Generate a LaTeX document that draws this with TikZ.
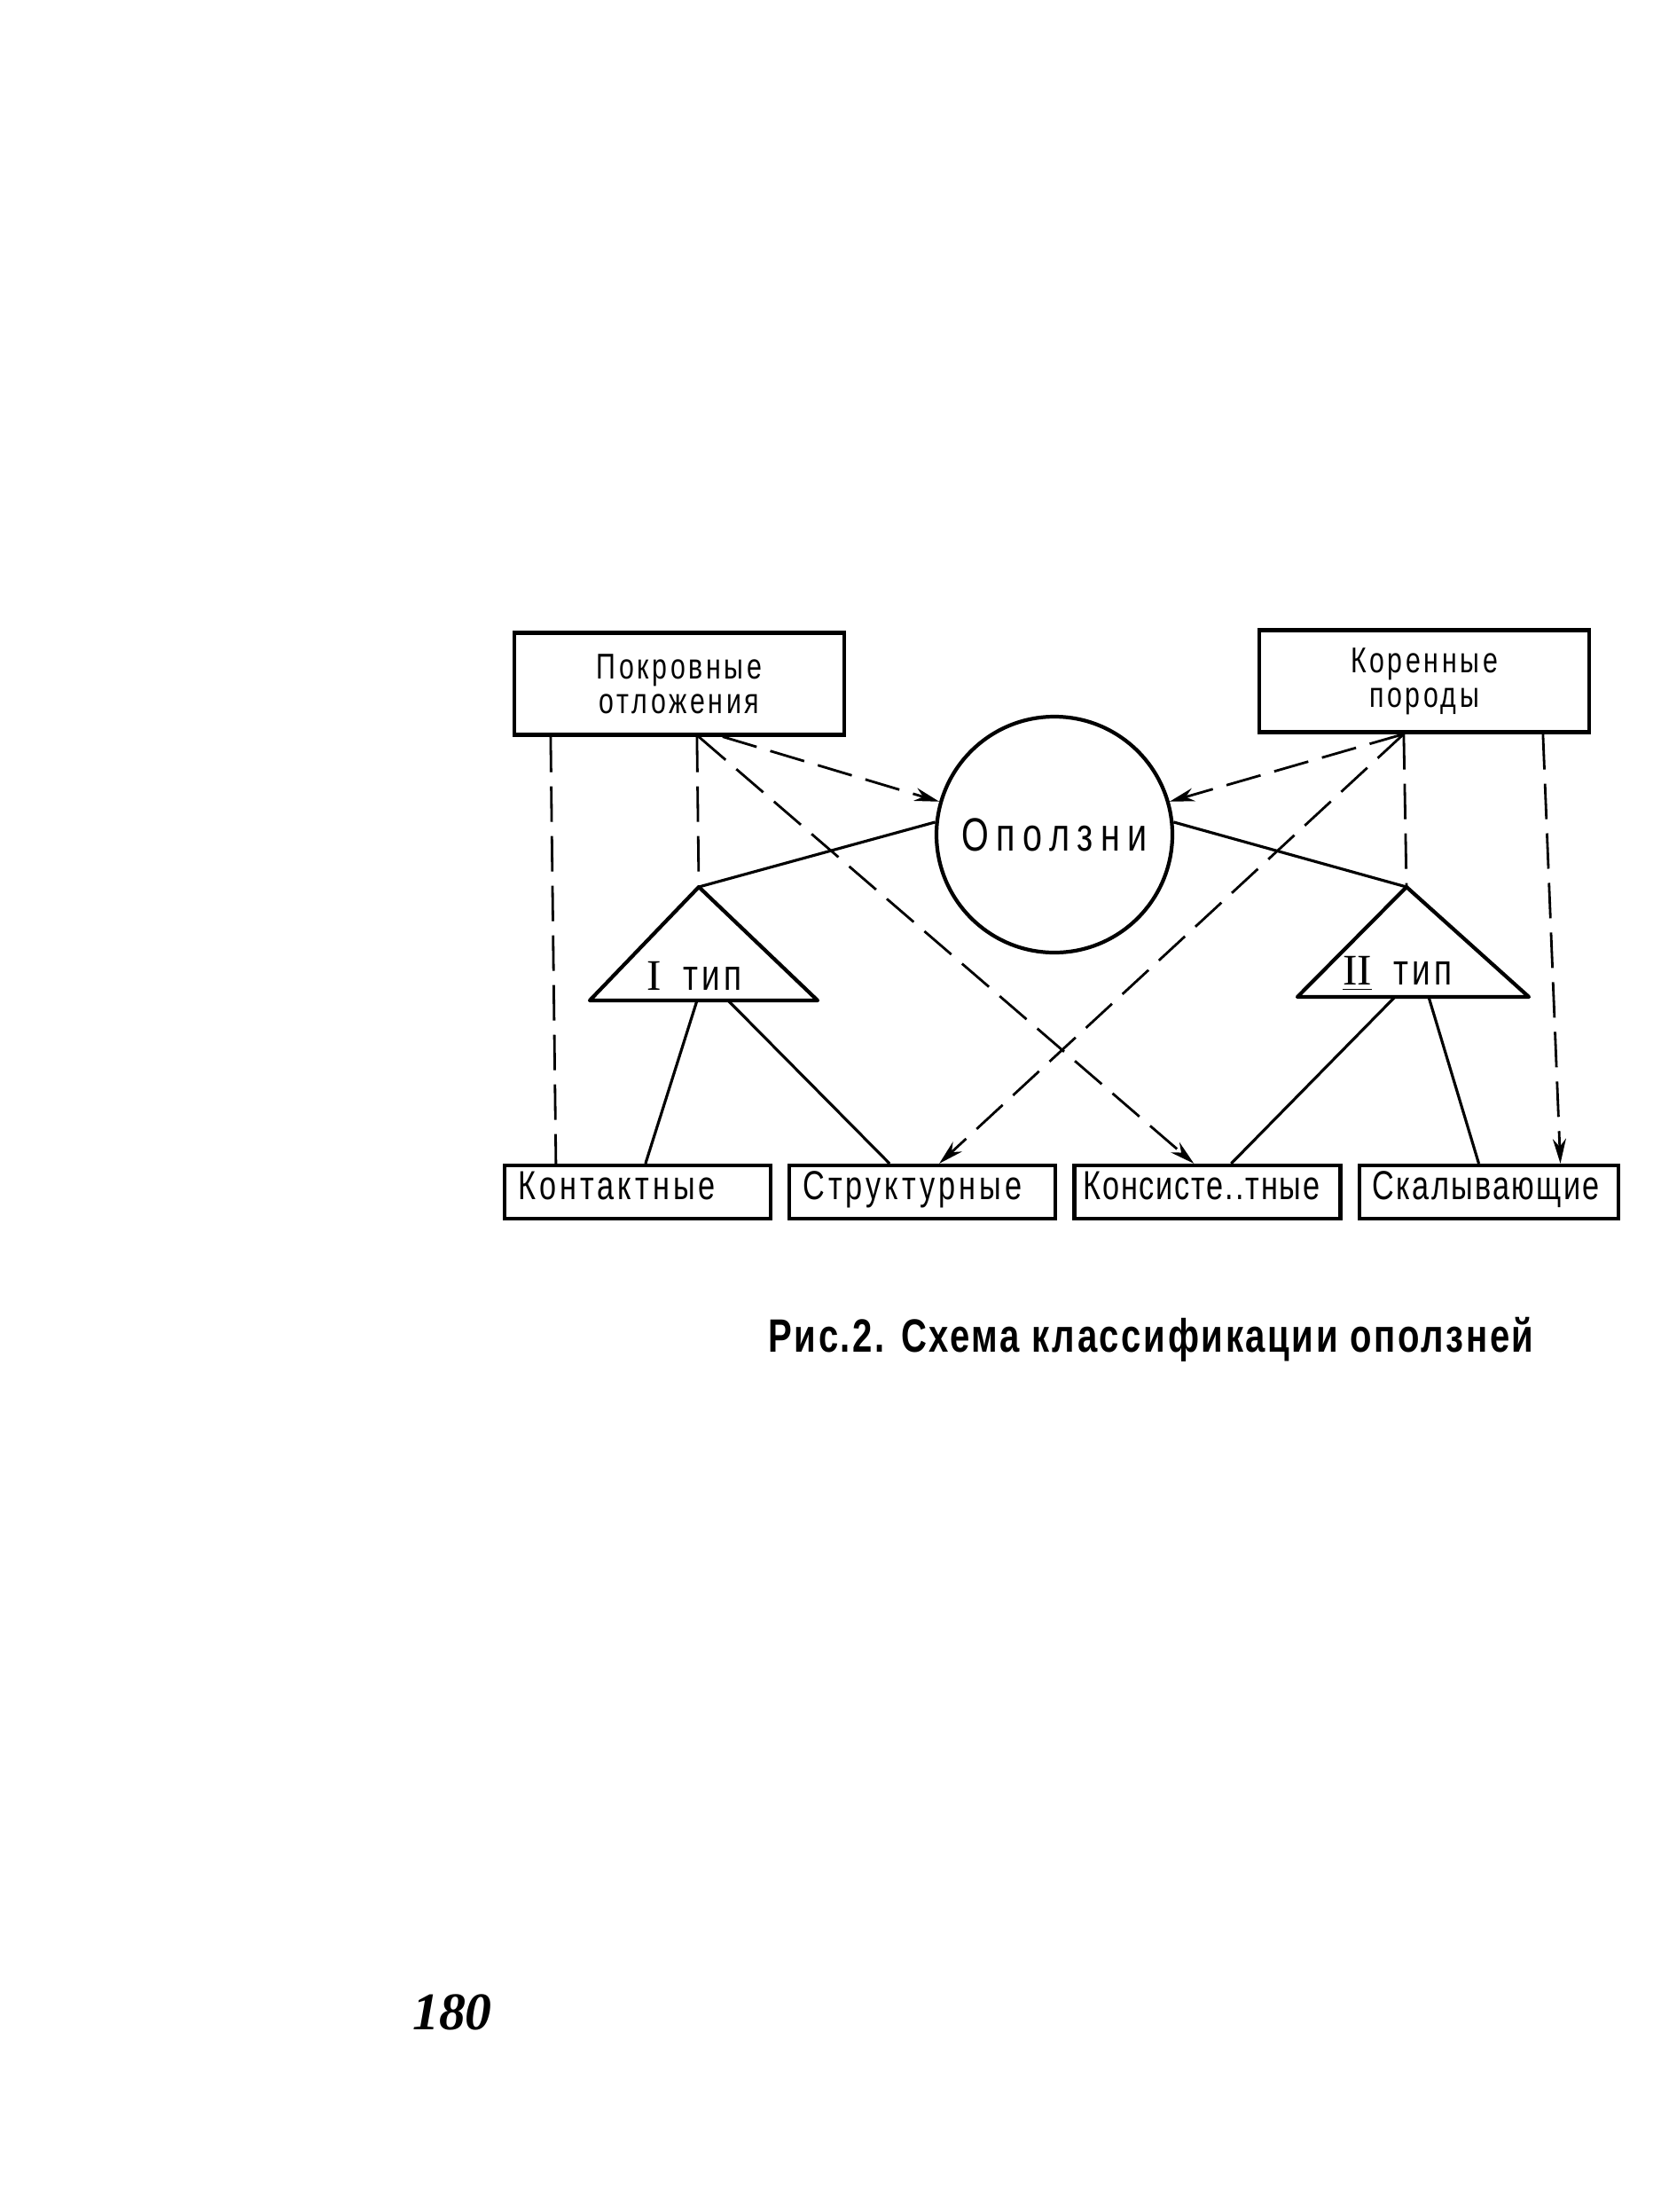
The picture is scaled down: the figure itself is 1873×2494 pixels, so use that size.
\documentclass[tikz,border=0pt]{standalone}
\usepackage{fontspec}
\usepackage{tikz}
\usetikzlibrary{positioning,arrows.meta}
\newfontfamily\stencil[FakeStretch=0.75,LetterSpace=9]{Liberation Sans}
\newfontfamily\romfont{Liberation Serif}
\newfontfamily\capfont[FakeStretch=0.76,LetterSpace=5]{Liberation Sans}

\begin{document}
\begin{tikzpicture}[x=0.1mm, y=-0.1mm, font=\stencil, >={Stealth[length=2.8mm,width=1.5mm]},
  topbox/.style={draw, line width=1.2pt, minimum width=37.2mm, minimum height=11.5mm,
                 align=center, inner sep=0pt, font=\stencil\fontsize{11.5}{11}\selectfont},
  lbox/.style={draw, line width=1.2pt, minimum height=6mm, text width=27mm, inner xsep=1.5mm,
               inner ysep=0pt, text height=2.4mm, text depth=0.7mm, align=left,
               font=\stencil\fontsize{13}{13}\selectfont},
  tri/.style={draw, line width=1.2pt, line join=round},
  tlabel/.style={font=\stencil\fontsize{14}{14}\selectfont},
  link/.style={line width=0.9pt},
  dlink/.style={line width=0.8pt, dash pattern=on 4mm off 1.6mm},
  node distance=1.7mm]
  \useasboundingbox (0,0) rectangle (1873,2494);
  \node[topbox] (pokr) at (766,771) {Покровные\\отложения};
  \node[topbox] (koren) at (1606,768) {Коренные\\породы};
  \node[circle, draw, line width=1.2pt, minimum size=26.6mm, inner sep=0pt,
        font=\stencil\fontsize{15}{15}\selectfont\addfontfeature{LetterSpace=16}] (opolzni) at (1189,941) {Оползни};
  \coordinate (tIa) at (788,1000);
  \coordinate (tIl) at (665,1128);
  \coordinate (tIr) at (922,1128);
  \coordinate (tIb1) at (786,1128);
  \coordinate (tIb2) at (821,1128);
  \draw[tri] (tIa) -- (tIl) -- (tIr) -- cycle;
  \node[tlabel] (tItext) at (783,1100) {{\romfont I}\enspace тип};
  \coordinate (tIIa) at (1586,1000);
  \coordinate (tIIl) at (1463,1124);
  \coordinate (tIIr) at (1724,1124);
  \coordinate (tIIb1) at (1573,1124);
  \coordinate (tIIb2) at (1611,1124);
  \draw[tri] (tIIa) -- (tIIl) -- (tIIr) -- cycle;
  \node[tlabel] (tIItext) at (1576,1098) {{\romfont\underline{II}}\enspace тип};
  \node[lbox] (kont) at (719,1344) {Контактные};
  \node[lbox, right=of kont] (strukt) {Структурные};
  \node[lbox, right=of strukt, inner xsep=1mm, text width=28mm,
        font=\stencil\fontsize{13}{13}\selectfont\addfontfeature{LetterSpace=4}] (konsist) {Консисте..тные};
  \node[lbox, right=of konsist, text width=26.2mm,
        font=\stencil\fontsize{13}{13}\selectfont\addfontfeature{LetterSpace=5}] (skal) {Скалывающие};
  \draw[dlink] ([xshift=4.3mm]pokr.south west) -- ([xshift=6mm]kont.north west);
  \draw[dlink] ([xshift=20.8mm]pokr.south west) -- (tIa);
  \draw[dlink, ->] ([xshift=23.7mm]pokr.south west) -- (opolzni.164);
  \draw[dlink, ->] ([xshift=21mm]pokr.south west) -- ([xshift=13.7mm]konsist.north west);
  \draw[dlink] ([xshift=16.5mm]koren.south west) -- (tIIa);
  \draw[dlink, ->] ([xshift=16.5mm]koren.south west) -- (opolzni.16);
  \draw[dlink, ->] ([xshift=16.5mm]koren.south west) -- ([xshift=17.1mm]strukt.north west);
  \draw[dlink, ->] ([xshift=32.2mm]koren.south west) -- ([xshift=22.9mm]skal.north west);
  \draw[link] (tIa) -- (opolzni.174);
  \draw[link] (opolzni.6) -- (tIIa);
  \draw[link] (tIb1) -- ([xshift=16.1mm]kont.north west);
  \draw[link] (tIb2) -- ([xshift=11.5mm]strukt.north west);
  \draw[link] (tIIb1) -- ([xshift=17.9mm]konsist.north west);
  \draw[link] (tIIb2) -- ([xshift=13.7mm]skal.north west);
  \node[anchor=west, font=\capfont\bfseries\fontsize{15}{15}\selectfont] (caption) at (854,1510)
       {Рис.2. Схема классификации оползней};
  \node[font=\romfont\bfseries\itshape\fontsize{17}{17}\selectfont] (pagenum) at (510,2269) {180};
\end{tikzpicture}
\end{document}
